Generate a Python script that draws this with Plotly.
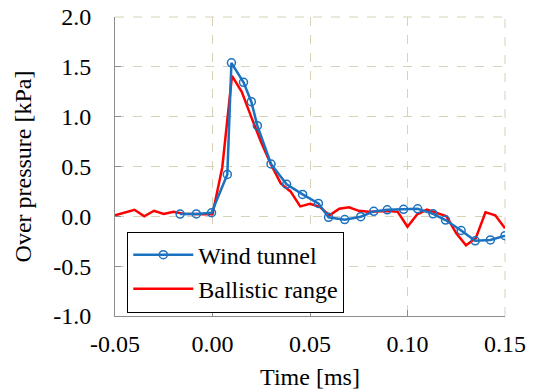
import plotly.graph_objects as go

# Wind tunnel (blue, circle markers)
wt_time = [-0.0166, -0.0083, -0.0005, 0.0076, 0.0097, 0.0159, 0.0199, 0.0230, 0.0300,
           0.0380, 0.0462, 0.0543, 0.0595, 0.0678, 0.0760, 0.0827, 0.0896, 0.0980,
           0.1052, 0.1131, 0.1195, 0.1275, 0.1347, 0.1425, 0.1500]
wt_pressure = [0.023, 0.024, 0.036, 0.42, 1.54, 1.345, 1.15, 0.91, 0.525,
               0.322, 0.22, 0.13, -0.01, -0.033, -0.004, 0.05, 0.065, 0.07,
               0.075, 0.025, -0.037, -0.142, -0.246, -0.237, -0.194]

# Ballistic range (red line)
br_time = [-0.050, -0.045, -0.040, -0.035, -0.030, -0.025, -0.020, -0.015, -0.010, -0.005,
           0.000, 0.005, 0.010, 0.015, 0.020, 0.025, 0.030, 0.035, 0.040, 0.045,
           0.050, 0.055, 0.060, 0.065, 0.070, 0.075, 0.080, 0.085, 0.090, 0.095,
           0.100, 0.105, 0.110, 0.115, 0.120, 0.125, 0.130, 0.135, 0.140, 0.145, 0.150]
br_pressure = [0.01, 0.04, 0.066, 0.0, 0.056, 0.023, 0.046, 0.025, 0.02, 0.02,
               0.02, 0.49, 1.41, 1.25, 0.99, 0.74, 0.52, 0.33, 0.25, 0.10,
               0.125, 0.095, 0.01, 0.077, 0.09, 0.055, 0.045, 0.05, 0.053, 0.045,
               -0.105, 0.02, 0.067, 0.035, 0.0, -0.17, -0.29, -0.22, 0.04, 0.01, -0.12]

x_ticks = [-0.05, 0.00, 0.05, 0.10, 0.15]
x_tick_labels = ["-0.05", "0.00", "0.05", "0.10", "0.15"]
y_ticks = [-1.0, -0.5, 0.0, 0.5, 1.0, 1.5, 2.0]
y_tick_labels = ["-1.0", "-0.5", "0.0", "0.5", "1.0", "1.5", "2.0"]

FONT = "Liberation Serif, Times New Roman, Times, DejaVu Serif, serif"
FS = 24
BLUE = "#1a72c0"
RED = "#ff0000"
GRID = "#d8d2b8"
AXIS = "#8c8c8c"

fig = go.Figure()
fig.add_trace(go.Scatter(
    x=br_time, y=br_pressure, mode="lines", name="Ballistic range",
    line=dict(color=RED, width=2.5), legendrank=2,
))
fig.add_trace(go.Scatter(
    x=wt_time, y=wt_pressure, mode="lines+markers", name="Wind tunnel",
    line=dict(color=BLUE, width=2.5),
    marker=dict(symbol="circle-open", size=8, color=BLUE, line=dict(width=1.5)),
    legendrank=1,
))

# dashed frame lines at top and right (gridline style, as in the reference)
fig.add_shape(type="line", xref="paper", yref="paper", x0=0, x1=1, y0=1, y1=1,
              line=dict(color=GRID, width=1, dash="dash"), layer="below")
fig.add_shape(type="line", xref="paper", yref="paper", x0=1, x1=1, y0=0, y1=1,
              line=dict(color=GRID, width=1, dash="dash"), layer="below")

fig.update_layout(
    width=533, height=392,
    margin=dict(l=115, r=28, t=17, b=76),
    paper_bgcolor="white", plot_bgcolor="white",
    font=dict(family=FONT, size=FS, color="black"),
    showlegend=True,
    legend=dict(
        x=0.0315, y=0.147, xanchor="left", yanchor="middle",
        bgcolor="white", bordercolor="black", borderwidth=1,
        font=dict(family=FONT, size=FS, color="black"),
        tracegroupgap=0, itemwidth=60, entrywidth=188,
    ),
)
fig.update_xaxes(
    range=[-0.05, 0.15], tickvals=x_ticks, ticktext=x_tick_labels,
    showline=True, linecolor=AXIS, linewidth=1,
    ticks="inside", ticklen=6, tickcolor=AXIS,
    showgrid=True, gridcolor=GRID, griddash="dash", gridwidth=1,
    zeroline=False, automargin=False,
    title=dict(text="Time [ms]", font=dict(family=FONT, size=FS), standoff=12),
    tickfont=dict(family=FONT, size=FS),
    ticklabelstandoff=6,
)
fig.update_yaxes(
    range=[-1.0, 2.0], tickvals=y_ticks, ticktext=y_tick_labels,
    showline=True, linecolor=AXIS, linewidth=1,
    ticks="inside", ticklen=6, tickcolor=AXIS,
    showgrid=True, gridcolor=GRID, griddash="dash", gridwidth=1,
    zeroline=False, automargin=False,
    title=dict(text="Over pressure [kPa]", font=dict(family=FONT, size=FS), standoff=14),
    tickfont=dict(family=FONT, size=FS),
    ticklabelstandoff=18,
)

fig.write_html("out.html")
